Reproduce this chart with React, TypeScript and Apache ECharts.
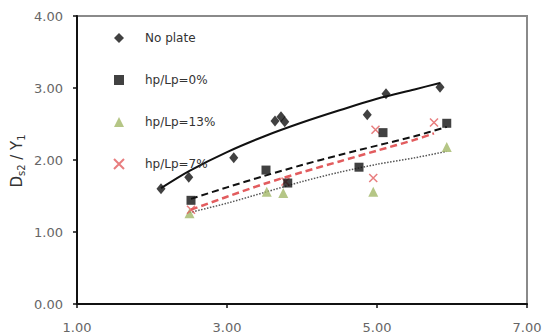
import React, { useEffect, useRef } from "react";
import * as echarts from "echarts";

const xTicks = [1, 3, 5, 7];
const yTicks = [0, 1, 2, 3, 4];

const seriesNames = ["No plate", "hp/Lp=0%", "hp/Lp=13%", "hp/Lp=7%"];

const noPlateX = [2.12, 2.49, 3.09, 3.64, 3.72, 3.77, 4.87, 5.12, 5.84];
const noPlateY = [1.6, 1.76, 2.03, 2.54, 2.6, 2.53, 2.63, 2.92, 3.01];
const hp0X = [2.52, 3.52, 3.81, 4.76, 5.08, 5.93];
const hp0Y = [1.44, 1.86, 1.68, 1.9, 2.38, 2.51];
const hp13X = [2.5, 3.53, 3.75, 4.95, 5.93];
const hp13Y = [1.26, 1.56, 1.54, 1.56, 2.18];
const hp7X = [2.52, 3.78, 4.95, 4.98, 5.76];
const hp7Y = [1.31, 1.7, 1.75, 2.42, 2.52];

// trendlines
const noPlateTrendX = [2.12, 2.5, 3.0, 3.5, 4.0, 4.5, 5.0, 5.5, 5.84];
const noPlateTrendY = [1.61, 1.85, 2.11, 2.33, 2.52, 2.69, 2.85, 2.98, 3.07];
const hp0TrendX = [2.52, 3.0, 3.5, 4.0, 4.5, 5.0, 5.5, 5.93];
const hp0TrendY = [1.46, 1.62, 1.78, 1.93, 2.07, 2.2, 2.33, 2.46];
const hp13TrendX = [2.5, 3.0, 3.5, 4.0, 4.5, 5.0, 5.5, 5.93];
const hp13TrendY = [1.27, 1.4, 1.55, 1.7, 1.83, 1.94, 2.03, 2.12];
const hp7TrendX = [2.52, 3.0, 3.5, 4.0, 4.5, 5.0, 5.5, 5.76];
const hp7TrendY = [1.31, 1.49, 1.67, 1.83, 1.98, 2.13, 2.28, 2.37];

const zip = (xs: number[], ys: number[]) => xs.map((x, i) => [x, ys[i]]);

const FONT = "DejaVu Sans";
const RED = "#E25C5E";
const GREEN = "#A3B868";

export default function App() {
  const ref = useRef<HTMLDivElement>(null);
  useEffect(() => {
    if (!ref.current) return;
    const chart = echarts.init(ref.current, null, { renderer: "svg" });
    const trend = (name: string, xs: number[], ys: number[], lineStyle: any) => ({
      type: "line",
      name: name + " trend",
      data: zip(xs, ys),
      showSymbol: false,
      symbol: "none",
      smooth: 0.3,
      lineStyle,
      z: 2,
      silent: true,
    });
    chart.setOption({
      animation: false,
      backgroundColor: "#ffffff",
      grid: {
        left: 77,
        right: 26,
        top: 16,
        bottom: 32,
        show: true,
        borderColor: "#8a8a8a",
        borderWidth: 2,
      },
      legend: {
        data: seriesNames,
        orient: "vertical",
        left: 108,
        top: 27,
        itemWidth: 10,
        itemHeight: 10,
        itemGap: 30,
        textStyle: {
          fontFamily: FONT,
          fontSize: 12,
          color: "#333",
          padding: [0, 0, 0, 16],
        },
      },
      xAxis: {
        type: "value",
        min: xTicks[0],
        max: xTicks[xTicks.length - 1],
        interval: 2,
        axisLine: { show: true, onZero: false, lineStyle: { color: "#111", width: 2 } },
        axisTick: { show: true, length: 4, lineStyle: { color: "#111", width: 1.5 } },
        splitLine: { show: false },
        axisLabel: {
          formatter: (v: number) => v.toFixed(2),
          fontFamily: FONT,
          fontSize: 13,
          color: "#666",
          margin: 17,
        },
      },
      yAxis: {
        type: "value",
        min: yTicks[0],
        max: yTicks[yTicks.length - 1],
        interval: 1,
        axisLine: { show: true, onZero: false, lineStyle: { color: "#111", width: 2 } },
        axisTick: { show: true, length: 4, lineStyle: { color: "#111", width: 1.5 } },
        splitLine: { show: false },
        axisLabel: {
          formatter: (v: number) => v.toFixed(2),
          fontFamily: FONT,
          fontSize: 13,
          color: "#666",
          margin: 14,
        },
      },
      graphic: [
        {
          type: "text",
          x: 17,
          y: 161,
          rotation: Math.PI / 2,
          style: {
            text: "{n|D}{s|s2}{n| / Y}{s|1}",
            align: "center",
            verticalAlign: "middle",
            rich: {
              n: { fontFamily: FONT, fontSize: 15, fill: "#333" },
              s: { fontFamily: FONT, fontSize: 10, fill: "#333", padding: [8, 0, 0, 0] },
            },
          },
        },
      ],
      series: [
        trend("No plate", noPlateTrendX, noPlateTrendY, { color: "#111", width: 2, type: "solid" }),
        trend("hp/Lp=13%", hp13TrendX, hp13TrendY, { color: "#555", width: 1.5, type: "dotted" }),
        trend("hp/Lp=0%", hp0TrendX, hp0TrendY, { color: "#111", width: 2, type: [7, 4] }),
        trend("hp/Lp=7%", hp7TrendX, hp7TrendY, { color: RED, width: 2.5, type: [7, 4] }),
        {
          type: "scatter",
          name: seriesNames[2],
          data: zip(hp13X, hp13Y),
          symbol: "triangle",
          symbolSize: 10,
          itemStyle: { color: GREEN },
          z: 3,
        },
        {
          type: "scatter",
          name: seriesNames[3],
          data: zip(hp7X, hp7Y),
          symbol: "path://M0,0L10,10M10,0L0,10",
          symbolSize: 8,
          itemStyle: { color: "rgba(0,0,0,0)", borderColor: RED, borderWidth: 1.5 },
          z: 4,
        },
        {
          type: "scatter",
          name: seriesNames[1],
          data: zip(hp0X, hp0Y),
          symbol: "rect",
          symbolSize: 9,
          itemStyle: { color: "#111" },
          z: 5,
        },
        {
          type: "scatter",
          name: seriesNames[0],
          data: zip(noPlateX, noPlateY),
          symbol: "diamond",
          symbolSize: [9, 11],
          itemStyle: { color: "#111" },
          z: 6,
        },
      ],
    });
    return () => chart.dispose();
  }, []);
  return (
    <div
      ref={ref}
      style={{ position: "fixed", left: 0, top: 0, width: 553, height: 336 }}
    />
  );
}
